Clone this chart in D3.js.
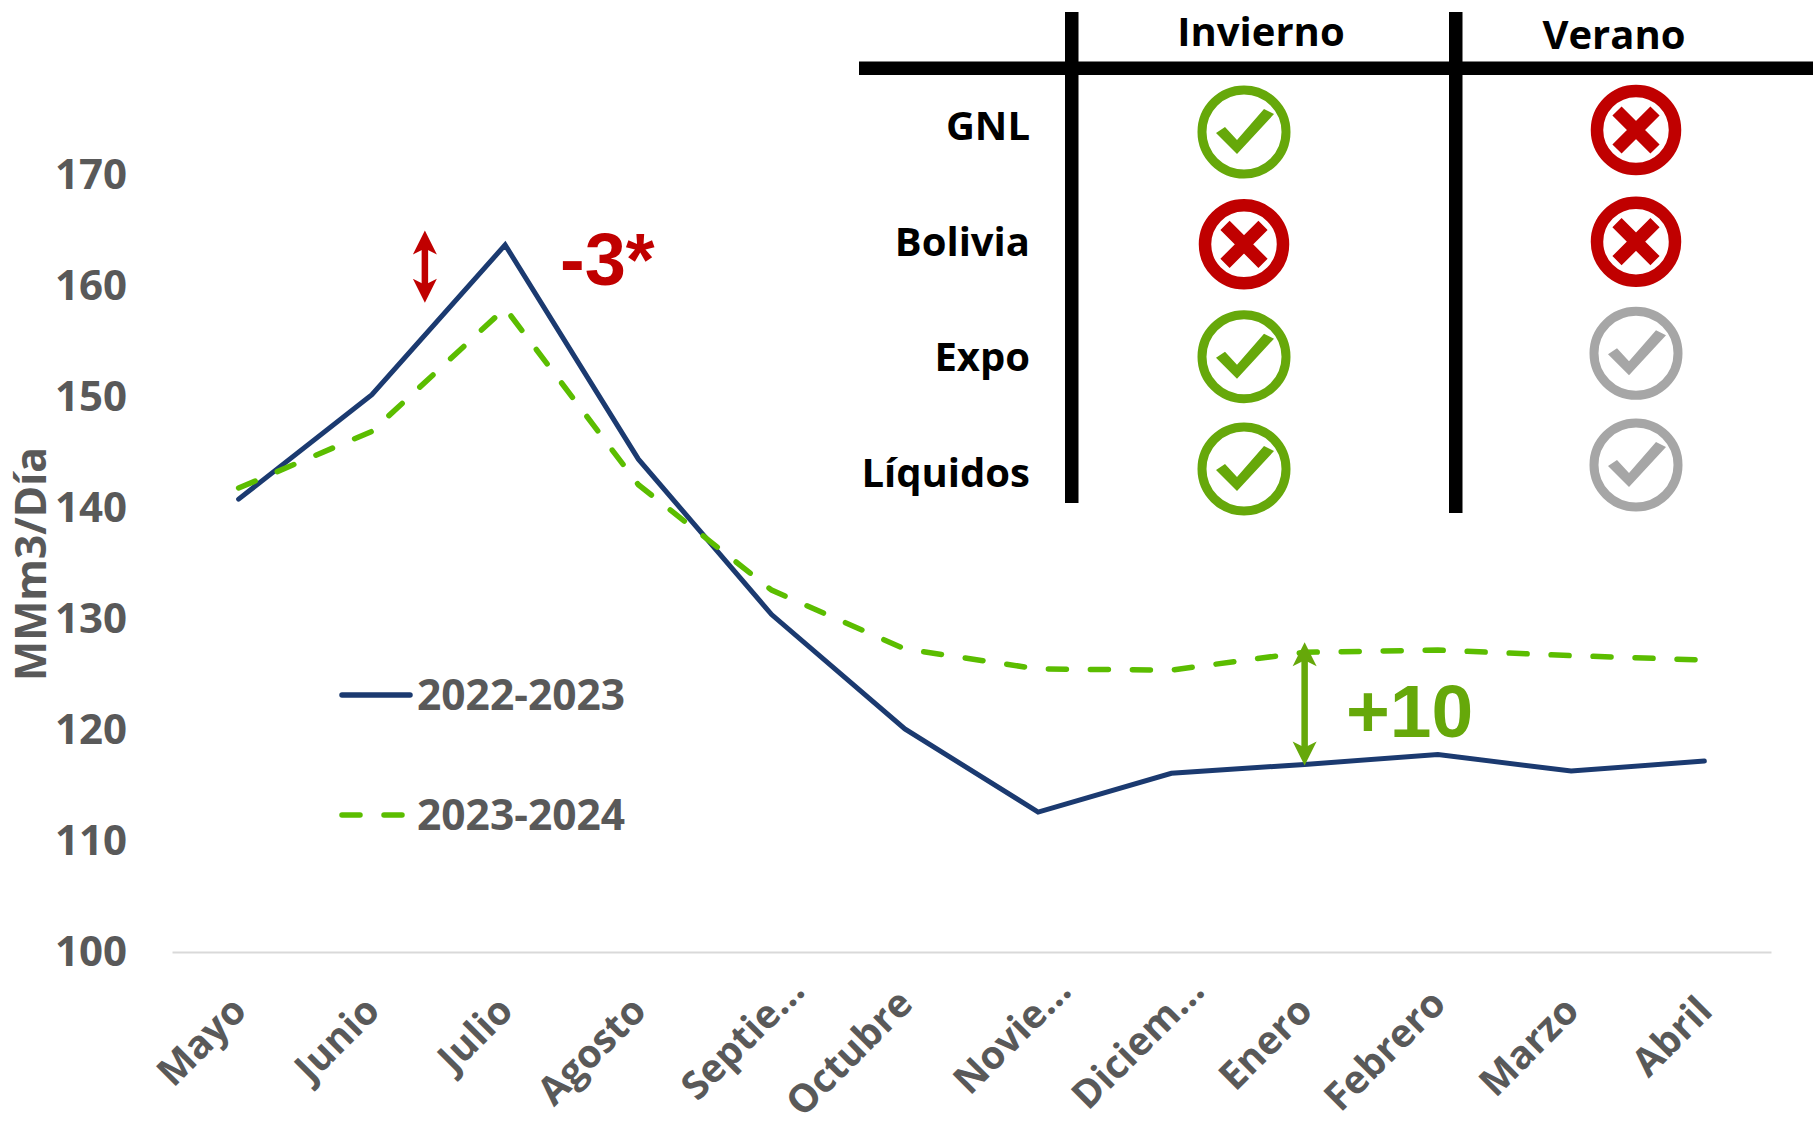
<html lang="en">
<head>
    <meta charset="UTF-8">
    <title>MMm3/Día</title>
    <script src="https://cdnjs.cloudflare.com/ajax/libs/d3/7.8.5/d3.min.js"></script>
    <style>
        body { margin: 0; background: white; }
        svg { display: block; font-family: "Open Sans", sans-serif; }
    </style>
</head>
<body>
<script>
    // chart data
    let months = ["Mayo", "Junio", "Julio", "Agosto", "Septie...", "Octubre", "Novie...", "Diciem...", "Enero", "Febrero", "Marzo", "Abril"]
    let serie2223 = [140.8, 150.2, 163.7, 144.4, 130.4, 120.1, 112.6, 116.1, 116.9, 117.8, 116.3, 117.2]
    let serie2324 = [141.8, 146.9, 158.0, 142.1, 132.6, 127.3, 125.5, 125.4, 127.0, 127.2, 126.7, 126.3]
    let yTicks = [100, 110, 120, 130, 140, 150, 160, 170]

    // table in the top right corner
    let tableRows = ["GNL", "Bolivia", "Expo", "Líquidos"]
    let invierno = ["ok", "no", "ok", "ok"]
    let verano = ["no", "no", "na", "na"]

    let navy = "#1B3A70", lime = "#5BBD00", darkGreen = "#66A80A", red = "#C00000", gray = "#595959", lightGray = "#A6A6A6"

    let svg = d3.select("body").append("svg").attr("width", 1813).attr("height", 1123)

    let x = d3.scaleBand().domain(months).range([172, 1771])
    let y = d3.scaleLinear().domain([100, 170]).range([952, 175])
    let xc = function (m) { return x(m) + x.bandwidth() / 2 }

    // axes
    let yAxis = svg.append("g").attr("transform", "translate(172,0)")
        .call(d3.axisLeft(y).tickValues(yTicks).tickSize(0).tickPadding(45))
    yAxis.select(".domain").remove()
    yAxis.selectAll("text").attr("fill", gray).style("font-size", "42px").style("font-weight", 700)
        .style("font-family", '"Open Sans", sans-serif')

    let xAxis = svg.append("g").attr("transform", "translate(0,952)")
        .call(d3.axisBottom(x).tickSize(0))
    xAxis.select(".domain").attr("stroke", "#D9D9D9").attr("stroke-width", 2)
    xAxis.selectAll("text")
        .attr("fill", gray)
        .attr("text-anchor", "end")
        .attr("dy", 0)
        .attr("y", 0)
        .attr("transform", function (d) {
            // the cut labels sit further up and to the right, the two longest must stay inside the page
            let cut = d.endsWith("...")
            let dy = cut ? 41 : (d.length == 7 ? 54 : 61)
            return "translate(" + (cut ? 35 : 10) + "," + dy + ") rotate(-45)"
        })
        .style("font-size", "39px").style("font-weight", 700)
        .style("font-family", '"Open Sans", sans-serif')

    svg.append("text")
        .attr("transform", "translate(46,564) rotate(-90)")
        .attr("text-anchor", "middle")
        .attr("fill", gray)
        .style("font-size", "42.5px").style("font-weight", 700)
        .text("MMm3/Día")

    // lines
    let line = d3.line().x(function (d, i) { return xc(months[i]) }).y(function (d) { return y(d) })
    svg.append("path").datum(serie2223).attr("d", line)
        .attr("fill", "none").attr("stroke", navy).attr("stroke-width", 5).attr("stroke-linecap", "round")
    svg.append("path").datum(serie2324).attr("d", line)
        .attr("fill", "none").attr("stroke", lime).attr("stroke-width", 5.5)
        .attr("stroke-dasharray", "18 24").attr("stroke-linecap", "round")

    // legend
    let legend = [["2022-2023", navy, null, 695], ["2023-2024", lime, "18 24", 815]]
    legend.forEach(function (l) {
        svg.append("line").attr("x1", 342).attr("x2", 410).attr("y1", l[3]).attr("y2", l[3])
            .attr("stroke", l[1]).attr("stroke-width", 5.5).attr("stroke-linecap", "round")
            .attr("stroke-dasharray", l[2])
        svg.append("text").attr("x", 417).attr("y", l[3] + 15)
            .attr("fill", gray).style("font-size", "42.5px").style("font-weight", 700)
            .text(l[0])
    })

    // double headed arrows
    function arrow(px, v1, v2, color) {
        let top = y(v1), bottom = y(v2)
        svg.append("line").attr("x1", px).attr("x2", px).attr("y1", top + 15).attr("y2", bottom - 15)
            .attr("stroke", color).attr("stroke-width", 6.5)
        let head = d3.path()
        head.moveTo(px, top); head.lineTo(px + 12, top + 24); head.lineTo(px, top + 18); head.lineTo(px - 12, top + 24); head.closePath()
        head.moveTo(px, bottom); head.lineTo(px + 12, bottom - 24); head.lineTo(px, bottom - 18); head.lineTo(px - 12, bottom - 24); head.closePath()
        svg.append("path").attr("d", head.toString()).attr("fill", color)
    }
    arrow(xc("Junio") + 53, 165, 158.5, red)
    arrow(xc("Enero"), 127.9, 116.8, darkGreen)

    svg.append("text").attr("x", 560).attr("y", 285).attr("fill", red)
        .style("font-family", '"Liberation Sans"').style("font-size", "74px").style("font-weight", 700)
        .text("-3*")
    svg.append("text").attr("x", 1346).attr("y", 737).attr("fill", darkGreen)
        .style("font-family", '"Liberation Sans"').style("font-size", "75px").style("font-weight", 700)
        .text("+10")

    // table lines
    svg.append("rect").attr("x", 859).attr("y", 61.5).attr("width", 954).attr("height", 13.5).attr("fill", "black")
    svg.append("rect").attr("x", 1065).attr("y", 12).attr("width", 13.5).attr("height", 491).attr("fill", "black")
    svg.append("rect").attr("x", 1449).attr("y", 12).attr("width", 13.5).attr("height", 501).attr("fill", "black")

    let headStyle = function (t) {
        t.attr("fill", "black").style("font-size", "40px").style("font-weight", 700)
    }
    svg.append("text").attr("x", 1261).attr("y", 46).attr("text-anchor", "middle").text("Invierno").call(headStyle)
    svg.append("text").attr("x", 1614).attr("y", 49).attr("text-anchor", "middle").text("Verano").call(headStyle)

    let labelY = d3.scalePoint().domain(tableRows).range([140, 487])
    svg.selectAll("text.row").data(tableRows).enter().append("text")
        .attr("class", "row")
        .attr("x", 1030).attr("y", function (d) { return labelY(d) })
        .attr("text-anchor", "end")
        .text(function (d) { return d })
        .call(headStyle)

    // status icons, one column per season
    let checkShape = "M-28,1 L-19,-5 L-7,8 L20,-23 L30,-18 L-7,22 Z"
    let icons = { ok: darkGreen, no: red, na: lightGray }
    function drawColumn(states, cx, y0, y1) {
        let rowY = d3.scalePoint().domain(tableRows).range([y0, y1])
        let g = svg.selectAll(null).data(states).enter().append("g")
            .attr("transform", function (d, i) { return "translate(" + cx + "," + rowY(tableRows[i]) + ")" })
        g.append("circle")
            .attr("r", function (d) { return d == "no" ? 39 : 42 })
            .attr("fill", "white")
            .attr("stroke", function (d) { return icons[d] })
            .attr("stroke-width", function (d) { return d == "no" ? 12.5 : 9 })
        g.filter(function (d) { return d != "no" }).append("path")
            .attr("d", checkShape).attr("fill", function (d) { return icons[d] })
        g.filter(function (d) { return d == "no" }).append("path")
            .attr("d", "M-19,-19 L19,19 M19,-19 L-19,19")
            .attr("stroke", red).attr("stroke-width", 13).attr("fill", "none")
    }
    drawColumn(invierno, 1244, 132, 469)
    drawColumn(verano, 1636, 130, 465)
</script>
</body>
</html>
